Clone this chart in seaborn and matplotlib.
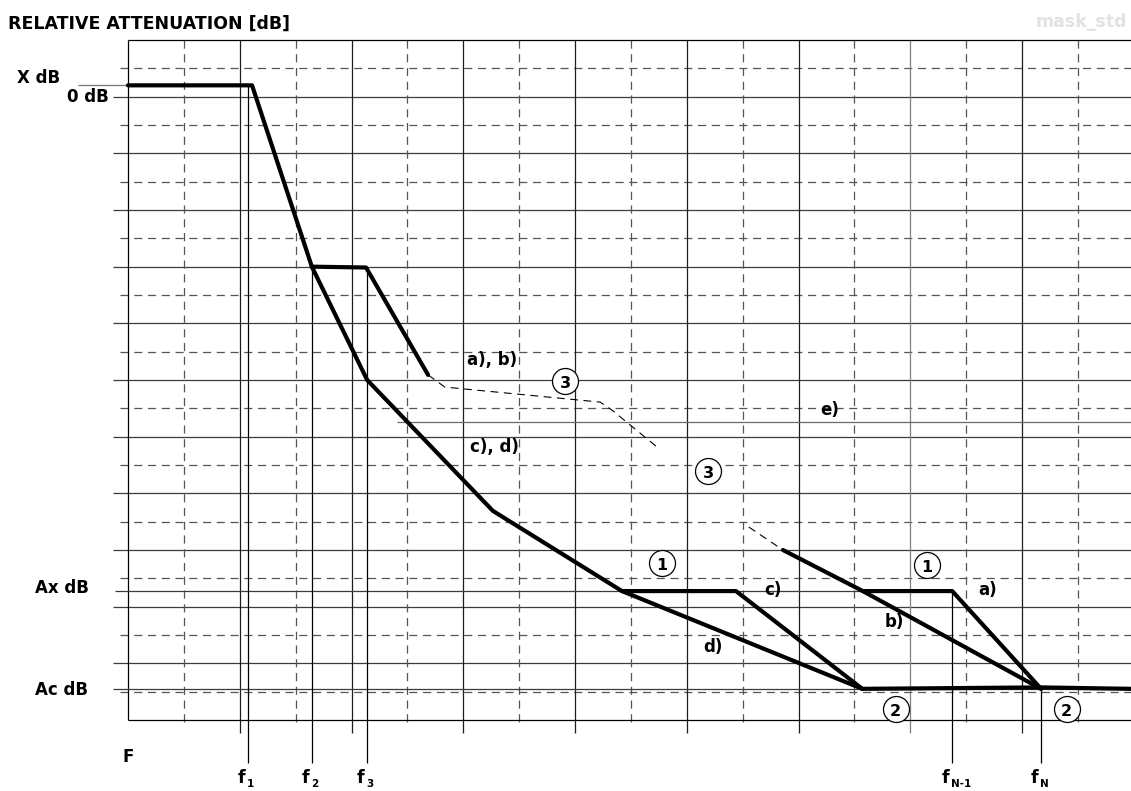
import matplotlib
matplotlib.use("Agg")
import matplotlib.pyplot as plt
import seaborn as sns

# ---------------------------------------------------------------------------
# Mask data.  x = frequency in grid columns from the left frame edge,
# y = attenuation in half grid rows below the top frame edge (grows downward).
# ---------------------------------------------------------------------------
level_names = ["X dB", "0 dB", "Ax dB", "Ac dB"]
level_values = [1.6, 2.0, 19.45, 22.9]

freq_names = ["1", "2", "3", "N-1", "N"]
freq_values = [2.15, 3.29, 4.28, 14.75, 16.34]
freq_mask_att = [1.6, 8.0, 8.03, 19.45, 22.9]

passband_f = [0.0, 2.22, 3.29]
passband_a = [1.6, 1.6, 8.0]

ab_f = [3.29, 4.26, 5.37]
ab_a = [8.0, 8.03, 11.82]

ab_opt1_f = [5.37, 5.67, 8.45, 8.66, 9.47]
ab_opt1_a = [11.82, 12.25, 12.78, 13.06, 14.37]
ab_opt2_f = [11.11, 11.72]
ab_opt2_a = [17.19, 18.0]

ab_low_f = [11.72, 13.15]
ab_low_a = [18.0, 19.45]

a_f = [13.15, 14.75, 16.34]
a_a = [19.45, 19.45, 22.9]
b_f = [13.15, 16.34]
b_a = [19.45, 22.9]

cd_f = [3.29, 4.28, 6.53, 8.84]
cd_a = [8.0, 12.0, 16.62, 19.45]
c_f = [8.84, 10.88, 13.14]
c_a = [19.45, 19.45, 22.9]
d_f = [8.84, 13.14]
d_a = [19.45, 22.9]

stop_f = [13.14, 16.34, 17.95]
stop_a = [22.9, 22.85, 22.9]

e_level = 13.48
e_start = 4.81

note_text = ["a), b)", "c), d)", "e)", "c)", "d)", "a)", "b)"]
note_f = [6.52, 6.56, 12.56, 11.55, 10.46, 15.38, 13.72]
note_a = [11.47, 14.54, 13.24, 19.59, 21.60, 19.59, 20.72]

mark_text = ["3", "3", "1", "1", "2", "2"]
mark_f = [7.82, 10.38, 9.56, 14.30, 13.74, 16.80]
mark_a = [12.04, 15.21, 18.46, 18.53, 23.61, 23.61]

# ---------------------------------------------------------------------------
# Layout
# ---------------------------------------------------------------------------
W, H, DPI = 1131, 791, 100
COL, ROW = 55.88, 28.333          # pixel size of one x unit / one y unit
LEFT, TOP = 128, 40               # frame corner in pixels
XMIN, XMAX = -LEFT / COL, (W - LEFT) / COL
YMIN, YMAX = -TOP / ROW, (H - TOP) / ROW

sns.set_theme(style="white")
plt.rcParams["font.family"] = ["DejaVu Sans"]
plt.rcParams["font.weight"] = "bold"
plt.rcParams["text.color"] = "black"

fig = plt.figure(figsize=(W / DPI, H / DPI), dpi=DPI)
fig.patch.set_facecolor("white")
ax = fig.add_axes([0, 0, 1, 1])
ax.set_xlim(XMIN, XMAX)
ax.set_ylim(YMAX, YMIN)
ax.axis("off")

DASH = (0, (6.5, 4.5))
GRID_SOLID = "#3c3c3c"
GRID_DASH = "#555555"

# grid: solid every second row/column, dashed in between
ax.hlines(range(2, 24, 2), -0.27, XMAX, colors=GRID_SOLID, lw=0.9, zorder=1)
ax.hlines(range(1, 24, 2), -0.14, XMAX, colors=GRID_DASH, lw=0.9,
          linestyles=DASH, zorder=1)
for u in range(2, 17, 2):
    ax.vlines(u, 0, 24.46, colors="#808080" if u == 14 else "#1e1e1e",
              lw=0.9, zorder=1)
ax.vlines(range(1, 18, 2), 0, 24.25, colors=GRID_DASH, lw=0.9,
          linestyles=DASH, zorder=1)

# frame (open on the right)
ax.hlines([0, 24], 0, XMAX, colors="black", lw=0.9, zorder=2)
ax.vlines(0, 0, 24, colors="black", lw=0.9, zorder=2)

# reference levels
ax.hlines(level_values[0], -0.895, 0, colors="#777777", lw=0.9, zorder=2)
ax.hlines(level_values[2], -0.23, a_f[0], colors=GRID_SOLID, lw=0.9, zorder=2)
ax.hlines(level_values[3], -0.27, XMAX, colors=GRID_SOLID, lw=0.9, zorder=2)
ax.hlines(e_level, e_start, XMAX, colors="#6a6a6a", lw=0.9, zorder=2)

# frequency markers
ax.vlines(freq_values, freq_mask_att, 25.52, colors="black", lw=0.9, zorder=2)

# mask curves
thick = dict(color="black", lw=3.0, sort=False, estimator=None, ax=ax,
             legend=False, zorder=5)
for xs, ys in [(passband_f, passband_a), (ab_f, ab_a), (ab_low_f, ab_low_a),
               (a_f, a_a), (b_f, b_a), (cd_f, cd_a), (c_f, c_a), (d_f, d_a),
               (stop_f, stop_a)]:
    sns.lineplot(x=xs, y=ys, **thick)

for xs, ys in [(ab_opt1_f, ab_opt1_a), (ab_opt2_f, ab_opt2_a)]:
    sns.lineplot(x=xs, y=ys, color="black", lw=0.8, sort=False,
                 estimator=None, ax=ax, legend=False, zorder=5,
                 linestyle=(0, (7, 5)))

# circled reference numbers
sns.scatterplot(x=mark_f, y=mark_a, ax=ax, marker="o", s=350,
                facecolor="white", edgecolor="black", linewidth=0.9,
                legend=False, zorder=6)
for t, x, y in zip(mark_text, mark_f, mark_a):
    ax.text(x, y + 0.08, t, ha="center", va="center", fontsize=11.5,
            fontweight="bold", zorder=7)

# curve notes
for t, x, y in zip(note_text, note_f, note_a):
    ax.text(x, y, t, ha="center", va="baseline", fontsize=12,
            fontweight="bold", zorder=7)

# level labels
lab_x = [-1.593, -0.725, -1.19, -1.19]
lab_y = [1.518, 2.188, 19.52, 23.12]
for t, x, y in zip(level_names, lab_x, lab_y):
    ax.text(x, y, t, ha="center", va="baseline", fontsize=12,
            fontweight="bold")

# frequency labels
ax.text(0, 25.48, "F", ha="center", va="baseline", fontsize=12,
        fontweight="bold")
for name, f in zip(freq_names, freq_values):
    ax.text(f - 0.05, 26.22, "f", ha="right", va="baseline", fontsize=12.5,
            fontweight="bold")
    ax.text(f - 0.02, 26.38, name, ha="left", va="baseline", fontsize=7.5,
            fontweight="bold")

fig.text(8 / W, 1 - 29 / H, "RELATIVE ATTENUATION [dB]", ha="left",
         va="baseline", fontsize=12.5, fontweight="bold", color="black")
fig.text(1127 / W, 1 - 27 / H, "mask_std", ha="right", va="baseline",
         fontsize=12.5, fontweight="bold", color="#e2e2e2")

fig.savefig("out.png", dpi=DPI, facecolor="white")
